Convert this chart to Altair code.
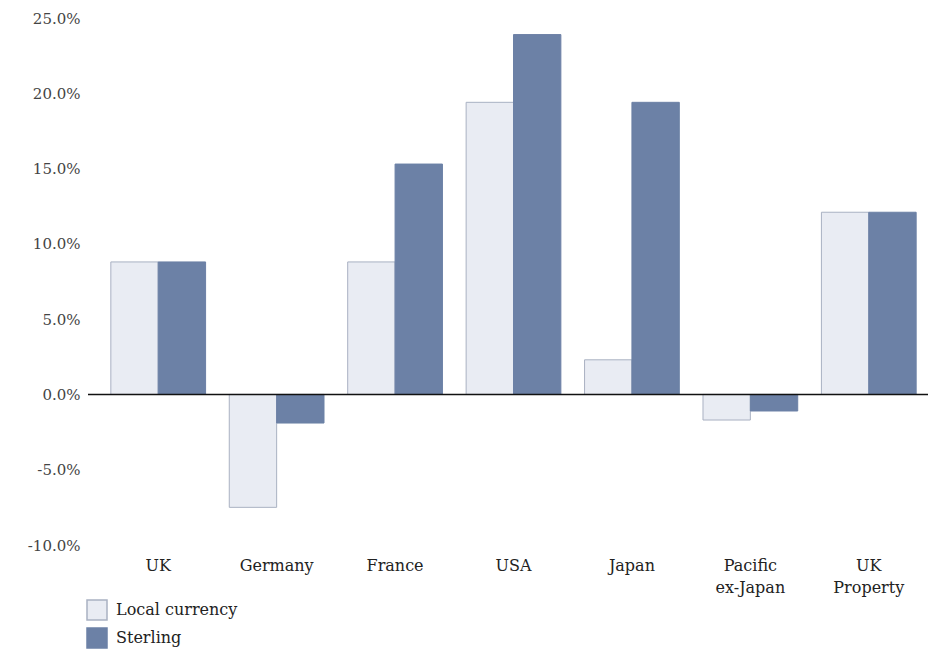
import altair as alt
import pandas as pd

categories = ["UK", "Germany", "France", "USA", "Japan", "Pacific ex-Japan", "UK Property"]
local_currency = [8.8, -7.5, 8.8, 19.4, 2.3, -1.7, 12.1]
sterling = [8.8, -1.9, 15.3, 23.9, 19.4, -1.1, 12.1]
series = ["Local currency", "Sterling"]
y_ticks = [-10, -5, 0, 5, 10, 15, 20, 25]

rows = []
for c, l, s in zip(categories, local_currency, sterling):
    rows.append({"category": c, "series": series[0], "value": l})
    rows.append({"category": c, "series": series[1], "value": s})
df = pd.DataFrame(rows)

W, H = 829, 527
FONT = "DejaVu Serif"

label_expr = ("datum.value == 'Pacific ex-Japan' ? ['Pacific','ex-Japan'] : "
              "datum.value == 'UK Property' ? ['UK','Property'] : datum.label")
y_expr = ("datum.value < 0 ? '-' + format(-datum.value, '.1f') + '%' : "
          "format(datum.value, '.1f') + '%'")

legend_kw = dict(orient="none", legendX=-13, legendY=581,
                 symbolType="square", symbolSize=400, symbolStrokeWidth=1.5,
                 labelFont=FONT, labelFontSize=16, labelColor="#222222",
                 rowPadding=2, labelOffset=8)

bars = alt.Chart(df).mark_bar(strokeWidth=1).encode(
    x=alt.X("category:N", sort=categories, title=None,
            scale=alt.Scale(paddingInner=0.2, paddingOuter=0.1),
            axis=alt.Axis(orient="bottom", domain=False, ticks=False, grid=False,
                          labelAngle=0, labelPadding=12, labelFontSize=16,
                          labelFont=FONT, labelColor="#222222",
                          labelExpr=label_expr, labelLineHeight=22,
                          labelBaseline="top")),
    xOffset=alt.XOffset("series:N", sort=series,
                        scale=alt.Scale(paddingInner=0, paddingOuter=0)),
    y=alt.Y("value:Q", title=None,
            scale=alt.Scale(domain=[-10, 25], nice=False, zero=False),
            axis=alt.Axis(values=y_ticks, domain=False, ticks=False, grid=False,
                          labelPadding=19, labelFontSize=15, labelFont=FONT,
                          labelColor="#444444", labelExpr=y_expr)),
    fill=alt.Fill("series:N", sort=series, title=None,
                  scale=alt.Scale(domain=series, range=["#e9ecf3", "#6c81a6"]),
                  legend=alt.Legend(**legend_kw)),
    stroke=alt.Stroke("series:N", sort=series, title=None,
                      scale=alt.Scale(domain=series, range=["#a9b1c2", "#6c81a6"]),
                      legend=alt.Legend(**legend_kw)),
)

zero = alt.Chart(pd.DataFrame({"v": [0]})).mark_rule(color="#111111", strokeWidth=1.5).encode(
    y=alt.Y("v:Q"),
    x=alt.value(-11),
    x2=alt.value(W),
)

chart = alt.layer(bars, zero).properties(
    width=W, height=H,
    background="white",
    autosize=alt.AutoSizeParams(type="none"),
    padding={"left": 91, "top": 10, "right": 0, "bottom": 106},
).configure_view(stroke=None)

chart.save("out.html", embed_options={"renderer": "svg", "actions": False})
